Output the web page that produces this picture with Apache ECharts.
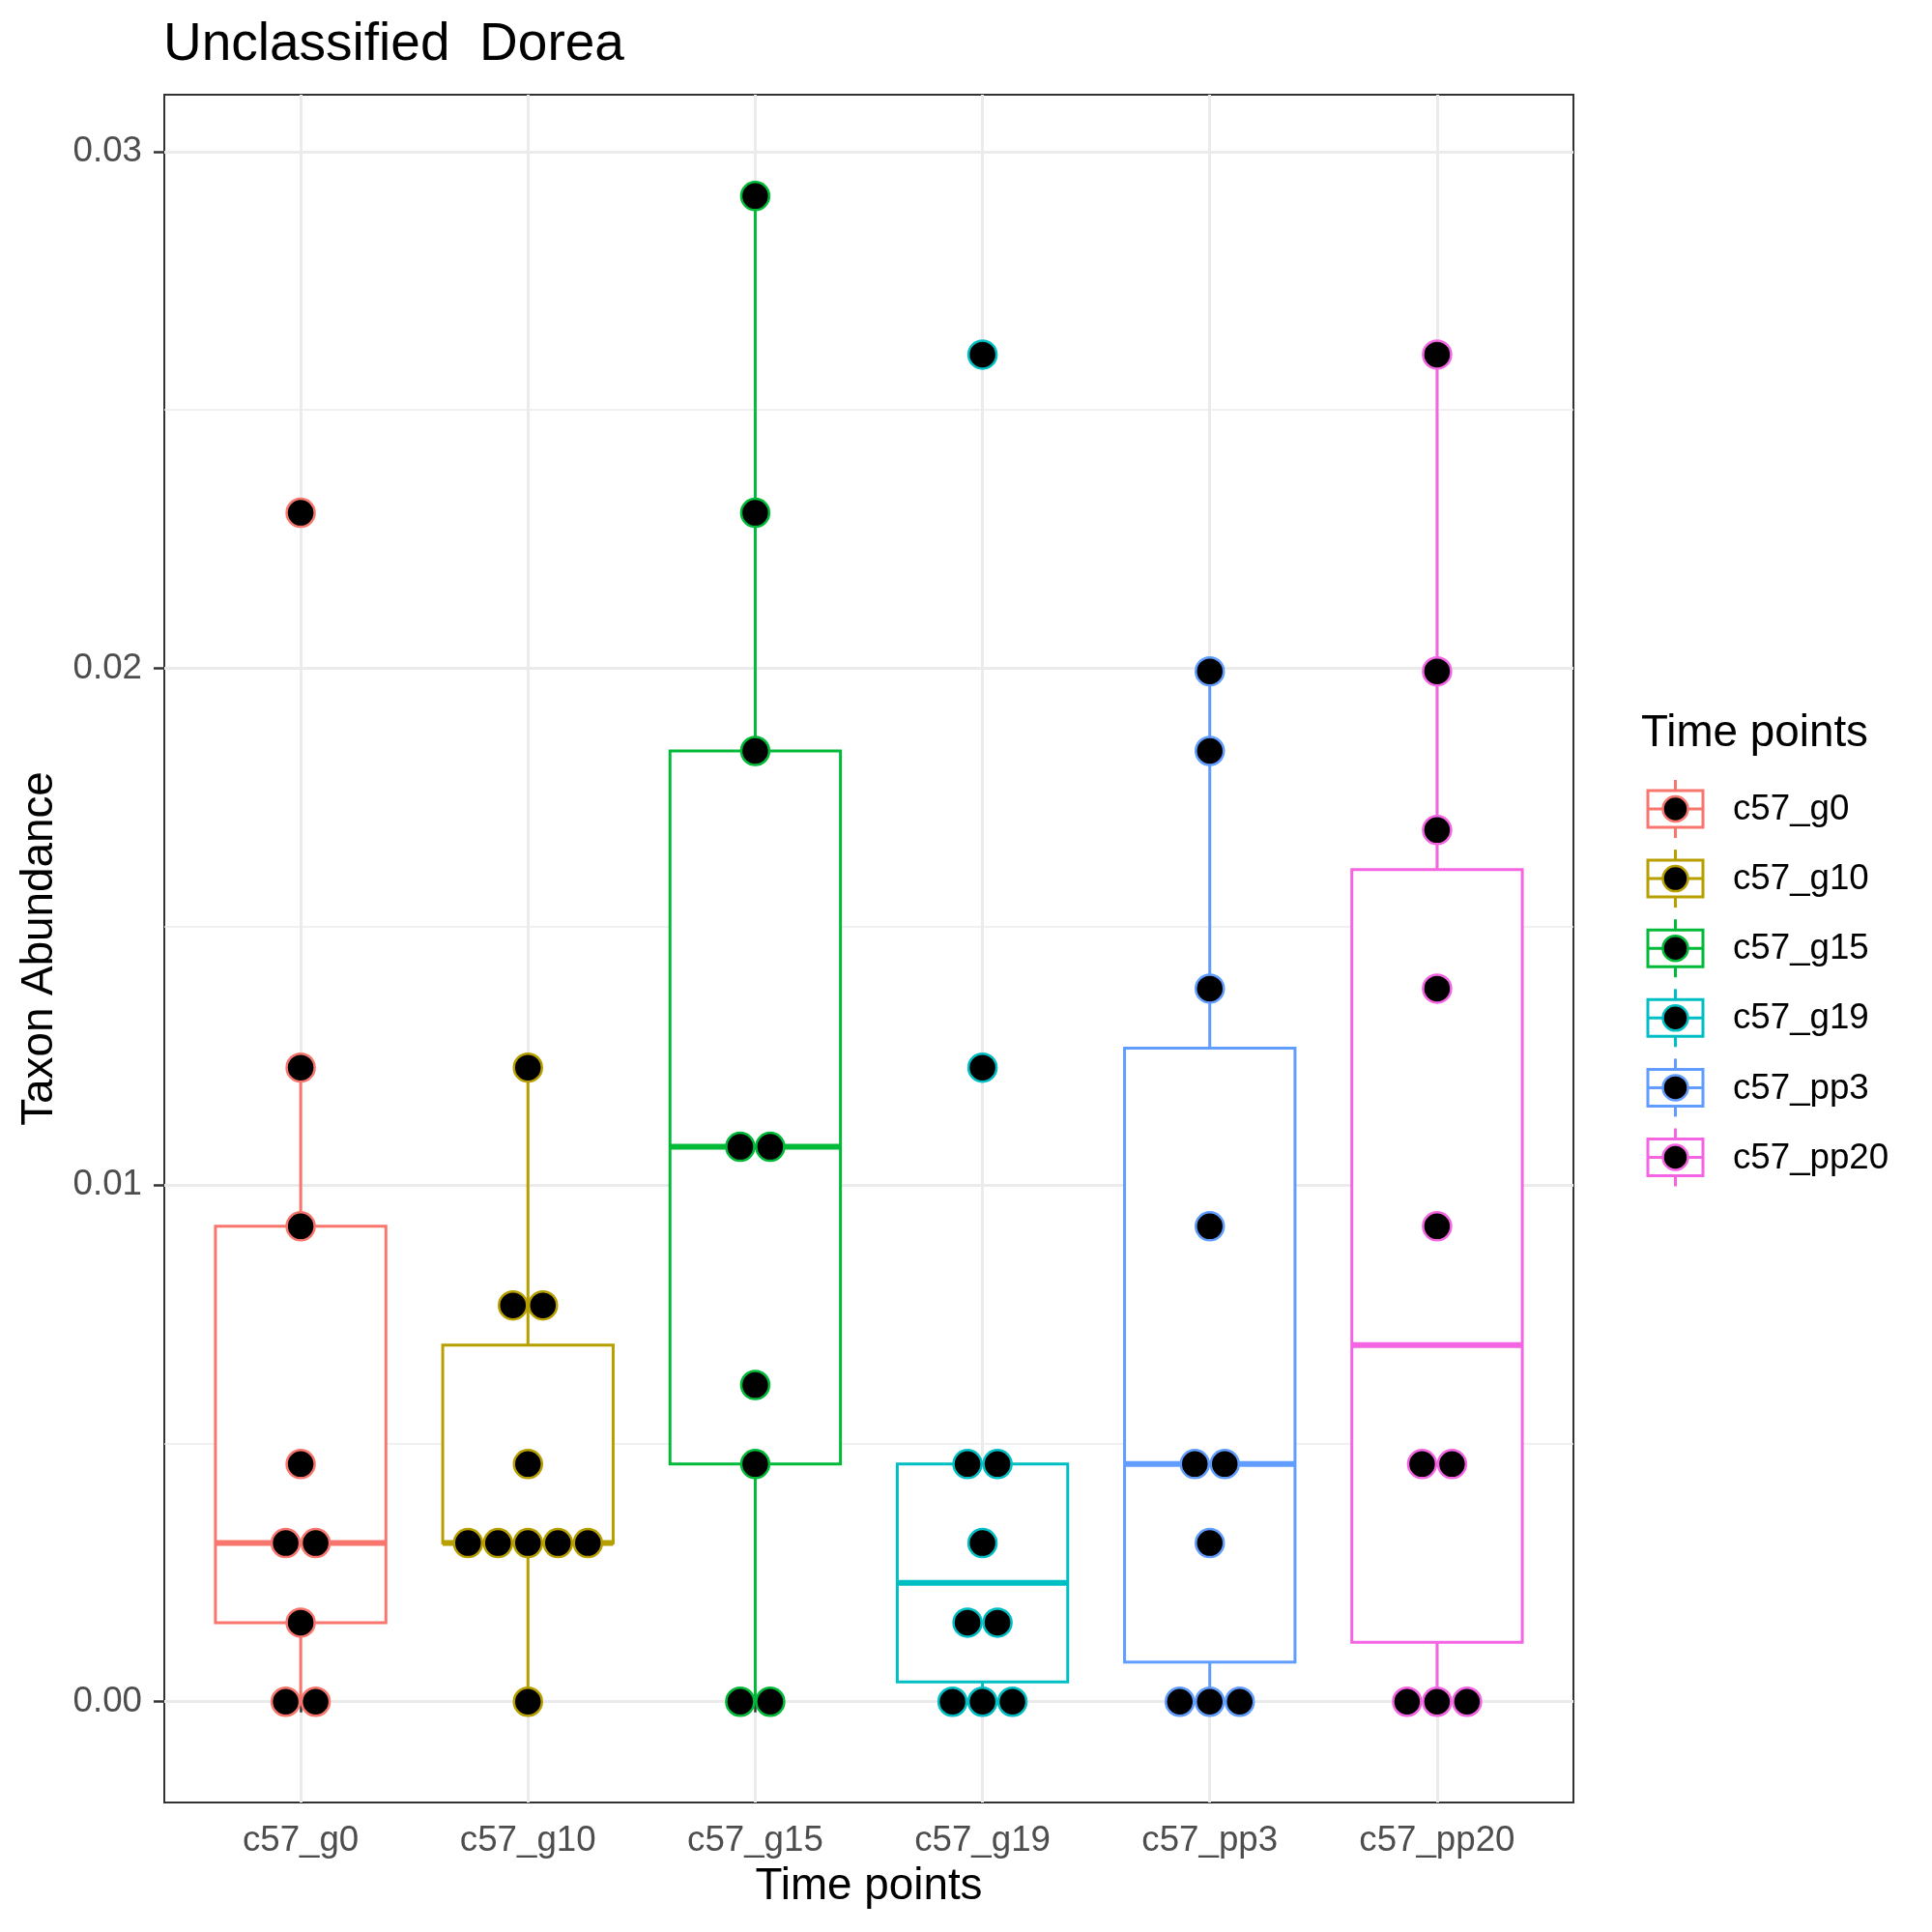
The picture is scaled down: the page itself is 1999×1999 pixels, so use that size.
<!DOCTYPE html>
<html>
<head>
<meta charset="utf-8">
<script src="https://cdn.jsdelivr.net/npm/echarts@6/dist/echarts.min.js"></script>
<style>html,body{margin:0;padding:0;background:#fff}#c{width:1999px;height:1999px}</style>
</head>
<body>
<div id="c"></div>
<script>
// ---- data ----
const categories = ['c57_g0', 'c57_g10', 'c57_g15', 'c57_g19', 'c57_pp3', 'c57_pp20'];
const g0   = [0.02301, 0.01227, 0.00920, 0.00460, 0.00307, 0.00307, 0.00153, 0, 0];
const g10  = [0.01227, 0.00767, 0.00767, 0.00460, 0.00307, 0.00307, 0.00307, 0.00307, 0.00307, 0];
const g15  = [0.02914, 0.02301, 0.01840, 0.01074, 0.01074, 0.00613, 0.00460, 0, 0];
const g19  = [0.02607, 0.01227, 0.00460, 0.00460, 0.00307, 0.00153, 0.00153, 0, 0, 0];
const pp3  = [0.01994, 0.01840, 0.01380, 0.00920, 0.00460, 0.00460, 0.00307, 0, 0, 0];
const pp20 = [0.02607, 0.01994, 0.01687, 0.01380, 0.00920, 0.00460, 0.00460, 0, 0, 0];
const yTicks = [0, 0.01, 0.02, 0.03];
const yMinorTicks = [0.005, 0.015, 0.025];
const groups = [g0, g10, g15, g19, pp3, pp20];

// ---- styling ----
const colors = ['#F8766D', '#B79F00', '#00BA38', '#00BFC4', '#619CFF', '#F564E3'];
const FONT = '"Liberation Sans", Arial, Helvetica, sans-serif';
const GRID = {left: 170, top: 98, right: 1999 - 1628, bottom: 1999 - 1865};
const DOT = 29, DOT_STEP = 31;

function quantile(sorted, p) {
  const h = (sorted.length - 1) * p;
  const lo = Math.floor(h), hi = Math.ceil(h);
  return sorted[lo] + (h - lo) * (sorted[hi] - sorted[lo]);
}
function boxStats(arr) {
  const s = arr.slice().sort((a, b) => a - b);
  const q1 = quantile(s, 0.25), med = quantile(s, 0.5), q3 = quantile(s, 0.75);
  const iqr = q3 - q1;
  const lo = Math.min(...s.filter(v => v >= q1 - 1.5 * iqr));
  const hi = Math.max(...s.filter(v => v <= q3 + 1.5 * iqr));
  return [lo, q1, med, q3, hi];
}
const boxData = groups.map((g, i) => [i + 1].concat(boxStats(g)));

const series = [{
  type: 'custom',
  z: 2,
  encode: {x: 0, y: [1, 2, 3, 4, 5]},
  data: boxData,
  renderItem: function (params, api) {
    const x = api.value(0);
    const col = colors[params.dataIndex];
    const half = api.size([0.75, 0])[0] / 2;
    const pLo = api.coord([x, api.value(1)]);
    const pQ1 = api.coord([x, api.value(2)]);
    const pMd = api.coord([x, api.value(3)]);
    const pQ3 = api.coord([x, api.value(4)]);
    const pHi = api.coord([x, api.value(5)]);
    const cx = pMd[0];
    return {
      type: 'group',
      children: [
        {type: 'line', shape: {x1: cx, y1: pHi[1], x2: cx, y2: pQ3[1]}, style: {stroke: col, lineWidth: 3}},
        {type: 'line', shape: {x1: cx, y1: pQ1[1], x2: cx, y2: pLo[1]}, style: {stroke: col, lineWidth: 3}},
        {type: 'rect', shape: {x: cx - half, y: pQ3[1], width: 2 * half, height: pQ1[1] - pQ3[1]},
          style: {fill: '#fff', stroke: col, lineWidth: 3}},
        {type: 'line', shape: {x1: cx - half, y1: pMd[1], x2: cx + half, y2: pMd[1]}, style: {stroke: col, lineWidth: 6}}
      ]
    };
  }
}];

groups.forEach((g, i) => {
  const counts = {};
  g.forEach(v => { counts[v] = (counts[v] || 0) + 1; });
  const seen = {};
  const data = g.map(v => {
    const k = seen[v] = (seen[v] === undefined ? 0 : seen[v] + 1);
    const n = counts[v];
    return {value: [i + 1, v], symbolOffset: [(k - (n - 1) / 2) * DOT_STEP, 0]};
  });
  series.push({
    type: 'scatter',
    name: categories[i],
    z: 3,
    symbol: 'circle',
    symbolSize: DOT,
    itemStyle: {color: '#000', borderColor: colors[i], borderWidth: 2.5, opacity: 1},
    emphasis: {disabled: true},
    data: data
  });
});

// legend graphic
const legendEls = [{
  type: 'text', style: {text: 'Time points', x: 1698, y: 759, font: '45.8px ' + FONT, fill: '#000', verticalAlign: 'middle'}
}];
categories.forEach((c, i) => {
  const cy = 837 + i * 72.1;
  const x0 = 1705, x1 = 1762, cx = (x0 + x1) / 2;
  legendEls.push(
    {type: 'line', shape: {x1: cx, y1: cy - 30, x2: cx, y2: cy + 30}, style: {stroke: colors[i], lineWidth: 3}},
    {type: 'rect', shape: {x: x0, y: cy - 19, width: x1 - x0, height: 38}, style: {fill: '#fff', stroke: colors[i], lineWidth: 3}},
    {type: 'line', shape: {x1: x0, y1: cy, x2: x1, y2: cy}, style: {stroke: colors[i], lineWidth: 3}},
    {type: 'circle', shape: {cx: cx, cy: cy, r: 13}, style: {fill: '#000', stroke: colors[i], lineWidth: 2.5}},
    {type: 'text', style: {text: c, x: 1793, y: cy + 1, font: '36.7px ' + FONT, fill: '#000', verticalAlign: 'middle'}}
  );
});

const option = {
  backgroundColor: '#fff',
  animation: false,
  title: {
    text: 'Unclassified  Dorea', left: 164, top: 14,
    textStyle: {fontSize: 55, fontWeight: 'normal', color: '#000', fontFamily: FONT}
  },
  grid: Object.assign({show: true, borderColor: '#333', borderWidth: 2, backgroundColor: 'transparent', containLabel: false}, GRID),
  xAxis: [{
    type: 'value', min: 0.4, max: 6.6,
    name: 'Time points', nameLocation: 'middle', nameGap: 64,
    nameTextStyle: {fontSize: 45.8, color: '#000', fontFamily: FONT},
    axisLine: {show: false},
    axisTick: {show: true, length: 11, lineStyle: {color: '#333', width: 2.5}, customValues: [1, 2, 3, 4, 5, 6]},
    axisLabel: {customValues: [1, 2, 3, 4, 5, 6], formatter: v => categories[Math.round(v) - 1], margin: 21,
      fontSize: 36.7, color: '#4D4D4D', fontFamily: FONT},
    splitLine: {show: true, lineStyle: {color: '#EBEBEB', width: 3}}
  }],
  yAxis: [{
    type: 'value', min: -0.00195, max: 0.0311,
    name: 'Taxon Abundance', nameLocation: 'middle', nameRotate: 90, nameGap: 104,
    nameTextStyle: {fontSize: 45.8, color: '#000', fontFamily: FONT},
    axisLine: {show: false},
    axisTick: {show: true, length: 11, lineStyle: {color: '#333', width: 2.5}, customValues: yTicks},
    axisLabel: {customValues: yTicks, formatter: v => v.toFixed(2), margin: 23,
      fontSize: 36.7, color: '#4D4D4D', fontFamily: FONT},
    splitLine: {show: true, lineStyle: {color: '#EBEBEB', width: 3}}
  }, {
    type: 'value', min: -0.00195, max: 0.0311, position: 'left',
    axisLine: {show: false}, axisTick: {show: false, customValues: yMinorTicks},
    axisLabel: {show: false, customValues: yMinorTicks},
    splitLine: {show: true, lineStyle: {color: '#EBEBEB', width: 1.5}}
  }],
  graphic: legendEls,
  series: series
};
const chart = echarts.init(document.getElementById('c'), null, {renderer: 'canvas'});
chart.setOption(option);
</script>
</body>
</html>
